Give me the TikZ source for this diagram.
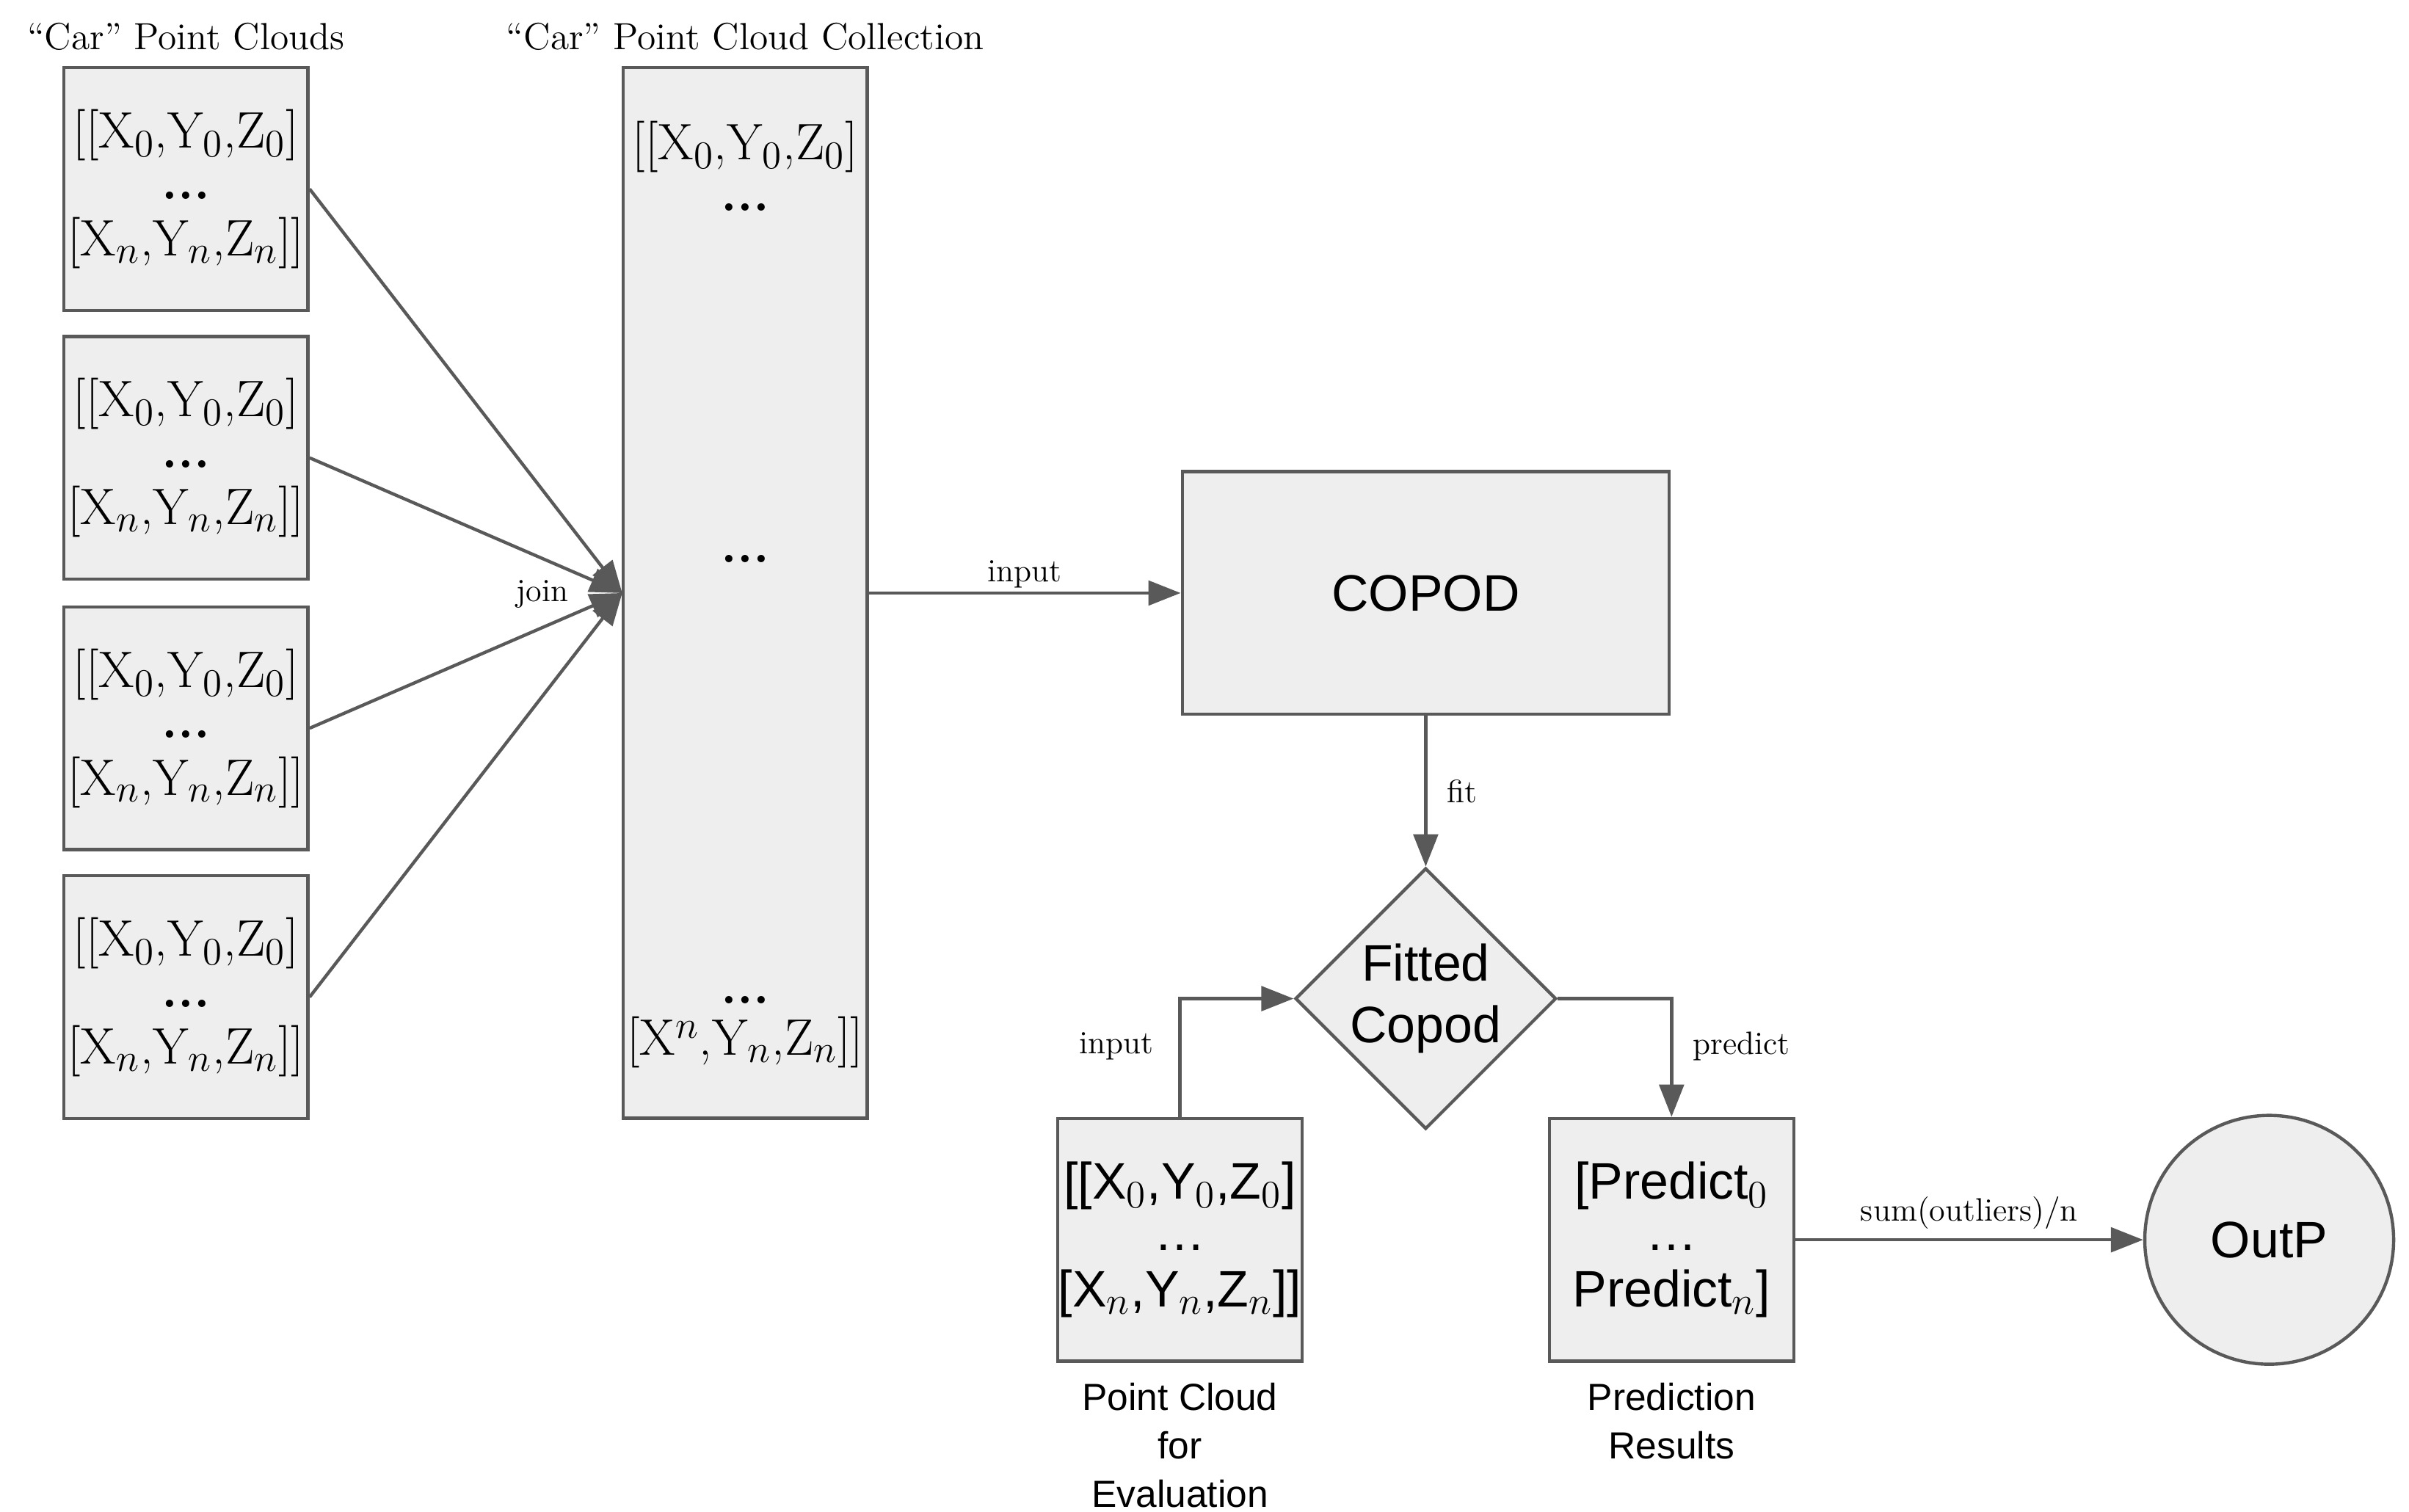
\documentclass[tikz,border=0pt]{standalone}
\usepackage{fontspec}
\newfontfamily\sansf{Liberation Sans}
\usetikzlibrary{arrows.meta,shapes.geometric}
\definecolor{bfill}{HTML}{EEEEEE}
\definecolor{bline}{HTML}{595959}
\begin{document}
\begin{tikzpicture}[x=0.02cm,y=-0.02cm,
 box/.style={draw=bline,fill=bfill,line width=1.2pt,rectangle,inner sep=0pt,align=center},
 pc/.style={box,minimum width=3.18cm,minimum height=3.16cm,font=\fontsize{19}{23}\selectfont},
 arr/.style={draw=bline,line width=1.2pt,-{Triangle[length=0.42cm,width=0.32cm]}},
 lbl/.style={font=\fontsize{12}{14}\selectfont,text=black},
 ttl/.style={font=\fontsize{14}{16}\selectfont}]
\useasboundingbox (0,0) rectangle (1568,984);
\node[ttl] (t1) at (121,24) {``Car'' Point Clouds};
\node[ttl] (t2) at (485,24) {``Car'' Point Cloud Collection};
\foreach \i/\y in {1/123,2/298,3/474,4/649}{
 \node[pc] (p\i) at (121,\y) {[[X$_0$,Y$_0$,Z$_0$]\\[-4pt]\textbf{...}\\[-2pt][X$_n$,Y$_n$,Z$_n$]]};
}
\node[box,minimum width=3.18cm,minimum height=13.68cm] (col) at (485,386) {};
\node[font=\fontsize{19}{23}\selectfont,align=center] (ct) at (485,108) {[[X$_0$,Y$_0$,Z$_0$]\\[-4pt]\textbf{...}};
\node[font=\fontsize{19}{23}\selectfont] (cm) at (485,364) {\textbf{...}};
\node[font=\fontsize{19}{23}\selectfont,align=center] (cb) at (485,672) {\textbf{...}\\[-4pt][X$^n$,Y$_n$,Z$_n$]]};
\coordinate (j) at (405,386);
\foreach \i in {1,2,3,4}{\draw[arr] (p\i.east) -- (j);}
\node[lbl] (jl) at (353,387) {join};
\node[box,minimum width=6.34cm,minimum height=3.16cm,font=\sansf\fontsize{19}{23}\selectfont] (cop) at (928,386) {COPOD};
\draw[arr] (col.east |- cop) -- node[lbl,above,yshift=-2pt]{input} (cop.west);
\node[draw=bline,fill=bfill,line width=1.2pt,diamond,minimum width=3.2cm,minimum height=3.14cm,inner sep=0pt,align=center,font=\sansf\fontsize{19}{23}\selectfont] (fit) at (928,650) {Fitted\\Copod};
\draw[arr] (cop.south) -- node[lbl,right,xshift=4pt]{fit} (fit.north);
\node[pc,font=\sansf\fontsize{19}{23}\selectfont] (ev) at (768,807) {[[X$_0$,Y$_0$,Z$_0$]\\[-4pt]\dots\\[-2pt][X$_n$,Y$_n$,Z$_n$]]};
\node[pc,font=\sansf\fontsize{19}{23}\selectfont] (pr) at (1088,807) {[Predict$_0$\\[-4pt]\dots\\[-2pt]Predict$_n$]};
\draw[arr] (ev.north) |- node[lbl,pos=0.3,left,xshift=-6pt]{input} (fit.west);
\draw[arr] (fit.east) -| node[lbl,pos=0.7,right,xshift=4pt]{predict} (pr.north);
\node[draw=bline,fill=bfill,line width=1.2pt,circle,minimum size=3.24cm,font=\sansf\fontsize{19}{23}\selectfont] (out) at (1477,807) {OutP};
\draw[arr] (pr.east) -- node[lbl,above]{sum(outliers)/n} (out.west);
\node[font=\sansf\fontsize{14}{18}\selectfont,align=center,anchor=north] (c1) at (768,894) {Point Cloud\\for\\Evaluation};
\node[font=\sansf\fontsize{14}{18}\selectfont,align=center,anchor=north] (c2) at (1088,894) {Prediction\\Results};
\end{tikzpicture}
\end{document}
